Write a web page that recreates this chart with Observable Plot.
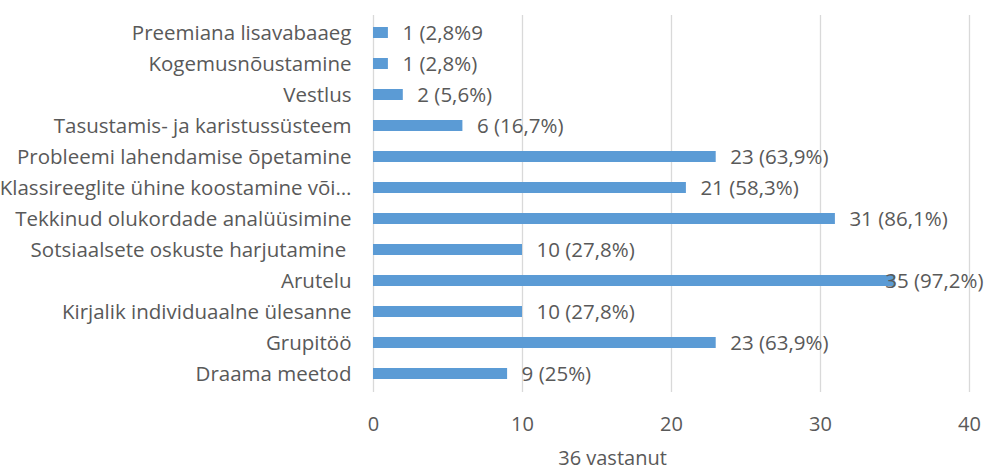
<!DOCTYPE html>
<html>
<head>
<meta charset="utf-8">
<script src="https://cdn.jsdelivr.net/npm/d3@7"></script>
<script src="https://cdn.jsdelivr.net/npm/@observablehq/plot@0.6"></script>
<style>
  html, body { margin: 0; padding: 0; background: #fff; }
  svg text { white-space: pre; }
</style>
</head>
<body>
<div id="chart"></div>
<script>
const categories = [
  "Preemiana lisavabaaeg",
  "Kogemusnõustamine",
  "Vestlus",
  "Tasustamis- ja karistussüsteem",
  "Probleemi lahendamise õpetamine",
  "Klassireeglite ühine koostamine või…",
  "Tekkinud olukordade analüüsimine",
  "Sotsiaalsete oskuste harjutamine ",
  "Arutelu",
  "Kirjalik individuaalne ülesanne",
  "Grupitöö",
  "Draama meetod"
];
const counts = [1, 1, 2, 6, 23, 21, 31, 10, 35, 10, 23, 9];
const valueLabels = [
  "1 (2,8%9", "1 (2,8%)", "2 (5,6%)", "6 (16,7%)", "23 (63,9%)", "21 (58,3%)",
  "31 (86,1%)", "10 (27,8%)", "35 (97,2%)", "10 (27,8%)", "23 (63,9%)", "9 (25%)"
];
const xTicks = [0, 10, 20, 30, 40];
const axisTitle = "36 vastanut";

const data = categories.map((c, i) => ({category: c, value: counts[i], label: valueLabels[i]}));

const font = "'Open Sans', sans-serif";
const textColor = "#595959";
const labelLimit = 33.4; // labels that would spill past the plot are pulled back, as in the original

const chart = Plot.plot({
  width: 990,
  height: 470,
  marginLeft: 373,
  marginRight: 21,
  marginTop: 15,
  marginBottom: 78,
  style: {fontFamily: font, fontSize: "21px", color: textColor, background: "#fff"},
  x: {domain: [0, 40], ticks: xTicks},
  y: {domain: categories, paddingInner: 0.63, paddingOuter: 0.315},
  marks: [
    Plot.gridX(xTicks.filter(d => d > 0), {stroke: "#d9d9d9", strokeOpacity: 1, strokeWidth: 1.3}),
    Plot.ruleX([0], {stroke: "#d9d9d9", strokeWidth: 1.3}),
    Plot.barX(data, {x: "value", y: "category", fill: "#5b9bd5"}),
    Plot.text(data, {x: d => Math.min(d.value, labelLimit), y: "category", text: "label", textAnchor: "start", dx: 14, fill: textColor, fontSize: 20.5}),
    Plot.axisY({tickSize: 0, tickPadding: 22, label: null, fontSize: 20.5, fill: textColor}),
    Plot.axisX({ticks: xTicks, tickSize: 0, tickPadding: 24, label: null, fontSize: 20, fill: textColor}),
    Plot.text([axisTitle], {frameAnchor: "bottom", dy: 72, dx: -59, fill: textColor, fontSize: 20})
  ]
});
document.getElementById("chart").appendChild(chart);
</script>
</body>
</html>
